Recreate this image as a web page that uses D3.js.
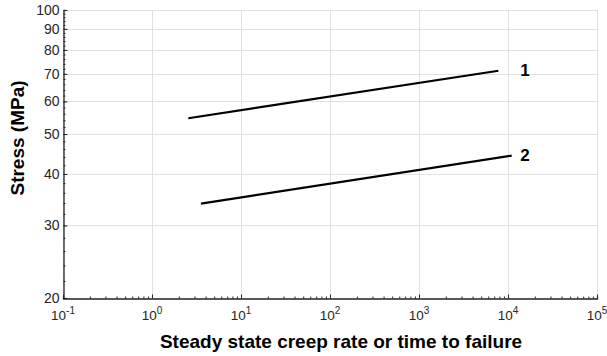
<!DOCTYPE html>
<html><head><meta charset="utf-8">
<script src="https://cdn.jsdelivr.net/npm/d3@7"></script>
<style>body{margin:0;background:#fff;} text{font-family:"Liberation Sans",Arial,sans-serif;}</style>
</head><body>
<svg id="c" width="607" height="356"></svg>
<script>
const xExponents = [-1, 0, 1, 2, 3, 4, 5];
const yTickValues = [20, 30, 40, 50, 60, 70, 80, 90, 100];
const seriesNames = ["1", "2"];
const series1 = [[2.56, 54.6], [7800, 71.2]];
const series2 = [[3.55, 33.9], [11000, 44.3]];
const seriesData = [series1, series2];

const svg = d3.select("#c");
const m = {l: 63, r: 597, t: 10, b: 298};
const x = d3.scaleLog().domain([0.1, 1e5]).range([m.l, m.r]);
const y = d3.scaleLog().domain([20, 100]).range([m.b, m.t]);

// grid
const grid = svg.append("g").attr("stroke", "#e1e1e1").attr("stroke-width", 1);
xExponents.forEach(e => {
  const px = Math.round(x(Math.pow(10, e))) + 0.5;
  grid.append("line").attr("x1", px).attr("x2", px).attr("y1", m.t).attr("y2", m.b);
});
yTickValues.forEach(v => {
  const py = Math.round(y(v)) + 0.5;
  grid.append("line").attr("x1", m.l).attr("x2", m.r).attr("y1", py).attr("y2", py);
});

// x axis
const xMinor = [];
for (let e = -1; e < 5; e++) for (let k = 2; k <= 9; k++) xMinor.push(k * Math.pow(10, e));
const xAxisG = svg.append("g").attr("transform", `translate(0,${m.b + 0.5})`)
  .call(d3.axisBottom(x).tickValues(xMinor).tickSize(-2).tickFormat(""));
const xMajorG = svg.append("g").attr("transform", `translate(0,${m.b + 0.5})`)
  .call(d3.axisBottom(x).tickValues(xExponents.map(e => Math.pow(10, e))).tickSize(-4).tickFormat(""));
[xAxisG, xMajorG].forEach(g => { g.selectAll("line").attr("stroke", "#262626"); g.select(".domain").attr("stroke", "#262626").attr("stroke-width", 1.3); });
xMajorG.select(".domain").remove();

xExponents.forEach(e => {
  const t = svg.append("text").attr("x", x(Math.pow(10, e))).attr("y", 320)
    .attr("text-anchor", "middle").attr("font-size", 13.5).attr("fill", "#262626");
  t.append("tspan").text("10");
  t.append("tspan").attr("dy", -6).attr("font-size", 10).text(String(e));
});

// y axis
const yMinor = d3.range(20, 100, 2);
const yAxisG = svg.append("g").attr("transform", `translate(${m.l + 0.5},0)`)
  .call(d3.axisLeft(y).tickValues(yMinor).tickSize(-2).tickFormat(""));
const yMajorG = svg.append("g").attr("transform", `translate(${m.l + 0.5},0)`)
  .call(d3.axisLeft(y).tickValues(yTickValues).tickSize(-4).tickPadding(8).tickFormat(d3.format("d")));
[yAxisG, yMajorG].forEach(g => { g.selectAll("line").attr("stroke", "#262626"); g.select(".domain").attr("stroke", "#262626").attr("stroke-width", 1.3); });
yMajorG.select(".domain").remove();
yMajorG.selectAll("text").attr("font-size", 14).attr("fill", "#262626")
  .attr("font-family", "Liberation Sans, Arial, sans-serif").attr("x", -4);

// lines
const line = d3.line().x(d => x(d[0])).y(d => y(d[1]));
seriesData.forEach((s, i) => {
  svg.append("path").attr("d", line(s)).attr("fill", "none").attr("stroke", "#000").attr("stroke-width", 2.2);
  const last = s[s.length - 1];
  svg.append("text").attr("x", 525).attr("y", y(last[1]) + 5)
    .attr("text-anchor", "middle").attr("font-size", 17).attr("font-weight", "bold").text(seriesNames[i]);
});

// axis labels
svg.append("text").attr("x", 341).attr("y", 348).attr("text-anchor", "middle")
  .attr("font-size", 19).attr("font-weight", "bold").attr("fill", "#000")
  .text("Steady state creep rate or time to failure");
svg.append("text").attr("transform", `translate(24,138) rotate(-90)`).attr("text-anchor", "middle")
  .attr("font-size", 19).attr("font-weight", "bold").attr("fill", "#000")
  .text("Stress (MPa)");
</script>
</body></html>
